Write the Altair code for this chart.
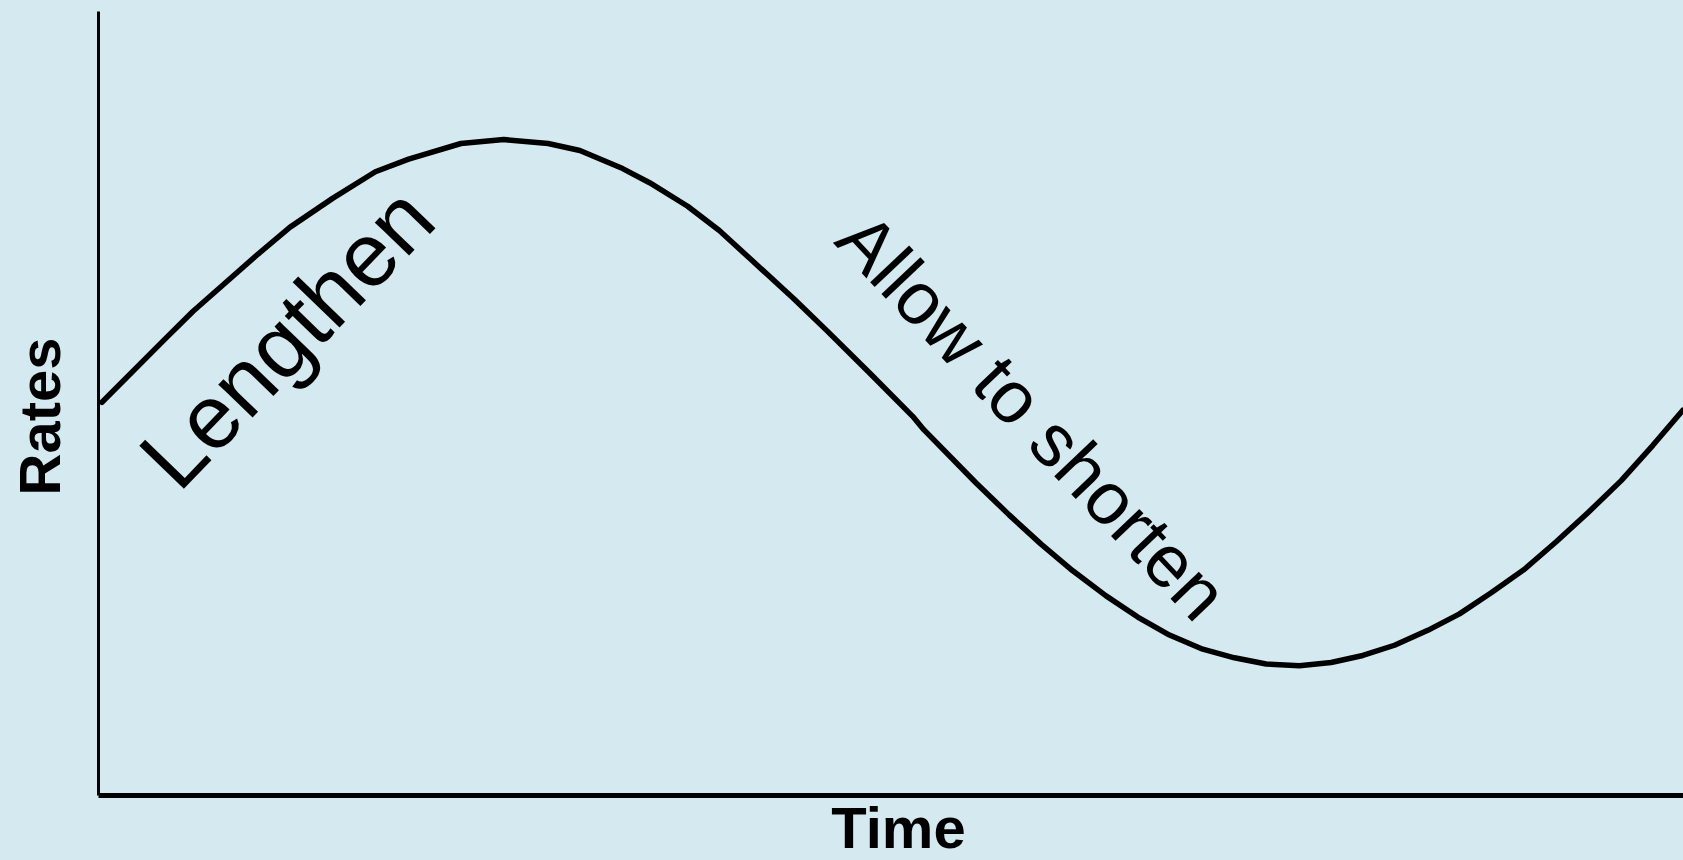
import altair as alt
import pandas as pd

# Curve (time 0-100, rate 0-100)
time_vals = [0.25, 4.3, 6.0, 10.1, 12.1, 14.8, 17.5, 19.6, 22.9, 25.6, 28.4, 30.4, 33.1, 34.8,
             37.2, 39.2, 41.2, 43.9, 46.0, 48.7, 51.4, 52.1, 55.4, 57.5, 59.5, 61.5, 63.6, 65.6,
             67.6, 69.7, 71.7, 73.7, 75.8, 77.8, 79.8, 81.8, 83.9, 85.9, 87.9, 90.0, 92.0, 94.0,
             96.1, 98.1, 100.0]
rate_vals = [50.1, 58.3, 61.7, 69.0, 72.4, 76.1, 79.5, 81.1, 83.1, 83.6, 83.1, 82.2, 79.9, 78.1,
             75.1, 72.0, 68.3, 63.3, 59.2, 53.8, 48.3, 46.6, 39.8, 35.7, 32.0, 28.6, 25.4, 22.7,
             20.4, 18.6, 17.5, 16.7, 16.5, 16.9, 17.8, 19.1, 21.0, 23.1, 25.8, 28.8, 32.3, 36.0,
             40.1, 44.6, 49.1]

label_texts = ["Lengthen", "Allow to shorten"]
label_time = [12.1, 58.8]
label_rate = [58.0, 48.0]
label_angle = [314, 46.5]
label_size = [90, 74]

curve = pd.DataFrame({"t": time_vals, "r": rate_vals})
labels = pd.DataFrame({"text": label_texts, "t": label_time, "r": label_rate,
                       "angle": label_angle, "size": label_size})

xscale = alt.Scale(domain=[0, 100], nice=False, zero=False)
yscale = alt.Scale(domain=[0, 100], nice=False, zero=False)

xaxis = alt.Axis(title="Time", labels=False, ticks=False, grid=False,
                 domainColor="black", domainWidth=5,
                 titleFont="Liberation Sans", titleFontSize=58, titleFontWeight="bold",
                 titleColor="black", titleBaseline="alphabetic", titleY=52,
                 titleX=800, titleAlign="center")
yaxis = alt.Axis(title="Rates", labels=False, ticks=False, grid=False,
                 domainColor="black", domainWidth=3,
                 titleFont="Liberation Sans", titleFontSize=58, titleFontWeight="bold",
                 titleColor="black", titleBaseline="alphabetic", titleX=-39, titleY=405,
                 titleAngle=270)

line = alt.Chart(curve).mark_line(color="black", strokeWidth=5.5, strokeCap="round",
                                   strokeJoin="round").encode(
    x=alt.X("t:Q", scale=xscale, axis=xaxis),
    y=alt.Y("r:Q", scale=yscale, axis=yaxis),
    order="t:Q",
)

texts = [
    alt.Chart(labels.iloc[[i]]).mark_text(
        font="Liberation Sans", color="black", align="center", baseline="middle",
        angle=float(label_angle[i]), fontSize=label_size[i]
    ).encode(
        x=alt.X("t:Q", scale=xscale),
        y=alt.Y("r:Q", scale=yscale),
        text="text:N",
    )
    for i in range(len(label_texts))
]

chart = alt.layer(line, *texts).properties(
    width=1585, height=784,
    background="#d4eaf0",
    padding={"left": 98, "top": 11, "right": 0, "bottom": 65},
    autosize=alt.AutoSizeParams(type="none"),
).configure_view(stroke=None, fill="#d4eaf0")

chart.save("out.html", embed_options={"renderer": "svg", "actions": False})
